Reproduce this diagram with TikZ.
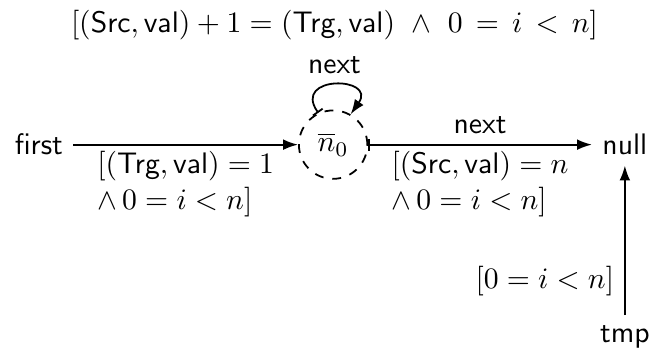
\documentclass[tikz,border=0pt]{standalone}
\usepackage{amsmath,amssymb}
\usepackage{tikz}
\usetikzlibrary{arrows.meta,positioning}
\tikzset{
  summ/.style={circle,draw,dashed,semithick,minimum size=0.81cm,inner sep=0pt},
  arr/.style={-{Latex[length=5pt,width=3.6pt]},semithick},
  barr/.style={{Bar[width=4pt]}-{Latex[length=5pt,width=3.6pt]},semithick},
  lbl/.style={align=left,inner sep=2pt},
}

\begin{document}
\begin{tikzpicture}[x=1cm,y=1cm]
  \useasboundingbox (0,0) rectangle (7.71,4.13);
  % nodes
  \node[summ] (n0) at (3.945,2.417) {$\overline{n}_0$};
  \node[left=2.66cm of n0] (first) {\textsf{first}};
  \node[right=2.65cm of n0] (null) {\textsf{null}};
  \node[below=1.77cm of null] (tmp) {\textsf{tmp}};
  % edges
  \draw[arr] (first) -- node[below,lbl] (lfirst) {$[(\textsf{Trg},\textsf{val}) = 1$\\ $\wedge\, 0 = i < n]$} (n0);
  \draw[barr] (n0) -- node[above] (lnext) {\textsf{next}} node[below,lbl] (lnull) {$[(\textsf{Src},\textsf{val}) = n$\\ $\wedge\, 0 = i < n]$} (null);
  \draw[arr] (tmp) -- node[left,pos=0.23] (ltmp) {$[0 = i < n]$} (null);
  % self loop
  \draw[barr] (n0.115) .. controls +(125:0.55) and +(55:0.55) .. node[above] (lloop) {\textsf{next}} (n0.60);
  \node[above=-1.35pt of lloop] (lcond) {$[(\textsf{Src},\textsf{val}) + 1 = (\textsf{Trg},\textsf{val})\ \wedge\ 0 \,=\, i \,<\, n]$};
\end{tikzpicture}
\end{document}
